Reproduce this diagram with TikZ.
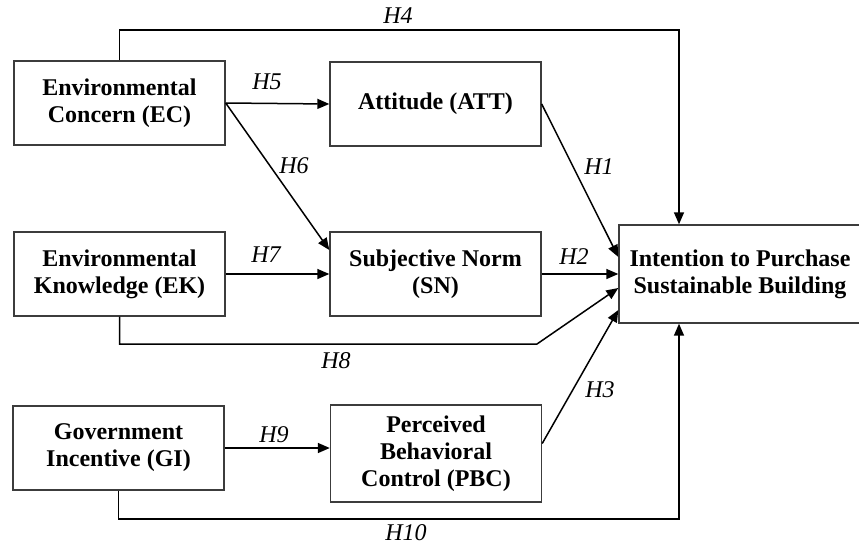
\documentclass[tikz,border=0pt]{standalone}
\usepackage{fontspec}
\setmainfont{Liberation Serif}
\usetikzlibrary{arrows.meta,positioning,calc}
\definecolor{bordercolor}{RGB}{60,60,60}
\definecolor{arrowcolor}{RGB}{0,0,0}
\tikzset{
    construct/.style={
        rectangle,
        minimum width=211pt,
        minimum height=84pt,
        align=center,
        draw=bordercolor,
        line width=1.4pt,
        inner sep=2pt,
        font=\fontsize{24}{27}\selectfont\bfseries
    },
    arrow/.style={-{Triangle[length=12pt,width=10pt]}, line width=1.5pt, color=arrowcolor},
    line/.style={line width=1.5pt, color=arrowcolor},
    hyp/.style={font=\fontsize{24}{27}\selectfont\itshape, inner sep=0pt}
}
\begin{document}
\begin{tikzpicture}[x=1pt, y=-1pt]
    \useasboundingbox (0,0) rectangle (859,546);

    % Exogenous constructs
    \node[construct] (ec) at (119.5,103) {Environmental\\Concern (EC)};
    \node[construct] (ek) at (119.5,274) {Environmental\\Knowledge (EK)};
    \node[construct] (gi) at (118.5,448) {Government\\Incentive (GI)};

    % TPB constructs
    \node[construct] (att) at (435.5,104) {Attitude (ATT)};
    \node[construct] (sn) at (435.5,274) {Subjective Norm\\(SN)};
    \node[construct, minimum height=97pt] (pbc) at (436,453.5)
          {Perceived\\Behavioral\\Control (PBC)};

    % Outcome
    \node[construct, minimum width=242pt, minimum height=98pt] (ipsb) at (740,274)
          {Intention to Purchase\\Sustainable Building};

    % Bend points
    \coordinate (h4corner) at (679,30);
    \coordinate (h8corner) at (537,344);
    \coordinate (h10corner) at (679,519);

    % Arrows
    \draw[arrow] (ec.north) |- (h4corner) -- (h4corner |- ipsb.north);
    \draw[arrow] (ec.east) -- (att.west);
    \draw[arrow] (ec.east) -- ([yshift=24pt]sn.west);
    \draw[arrow] (ek.east) -- (sn.west);
    \draw[arrow] (att.east) -- ([yshift=17pt]ipsb.west);
    \draw[arrow] (sn.east) -- (ipsb.west);
    \draw[arrow] (ek.south) |- (h8corner) -- ([yshift=-14pt]ipsb.west);
    \draw[arrow] ([yshift=10pt]pbc.east) -- ([yshift=-36pt]ipsb.west);
    \draw[arrow] (gi.east) -- (pbc.west |- gi.east);
    \draw[arrow] (gi.south) |- (h10corner) -- (h10corner |- ipsb.south);

    % Hypothesis labels
    \node[hyp] (h1) at (599,167) {H1};
    \node[hyp] (h2) at (574,257) {H2};
    \node[hyp] (h3) at (600,390) {H3};
    \node[hyp] (h4) at (398,16) {H4};
    \node[hyp] (h5) at (267,82) {H5};
    \node[hyp] (h6) at (294,166) {H6};
    \node[hyp] (h7) at (266,255) {H7};
    \node[hyp] (h8) at (336,361) {H8};
    \node[hyp] (h9) at (274,435) {H9};
    \node[hyp] (h10) at (406,533) {H10};
\end{tikzpicture}
\end{document}
